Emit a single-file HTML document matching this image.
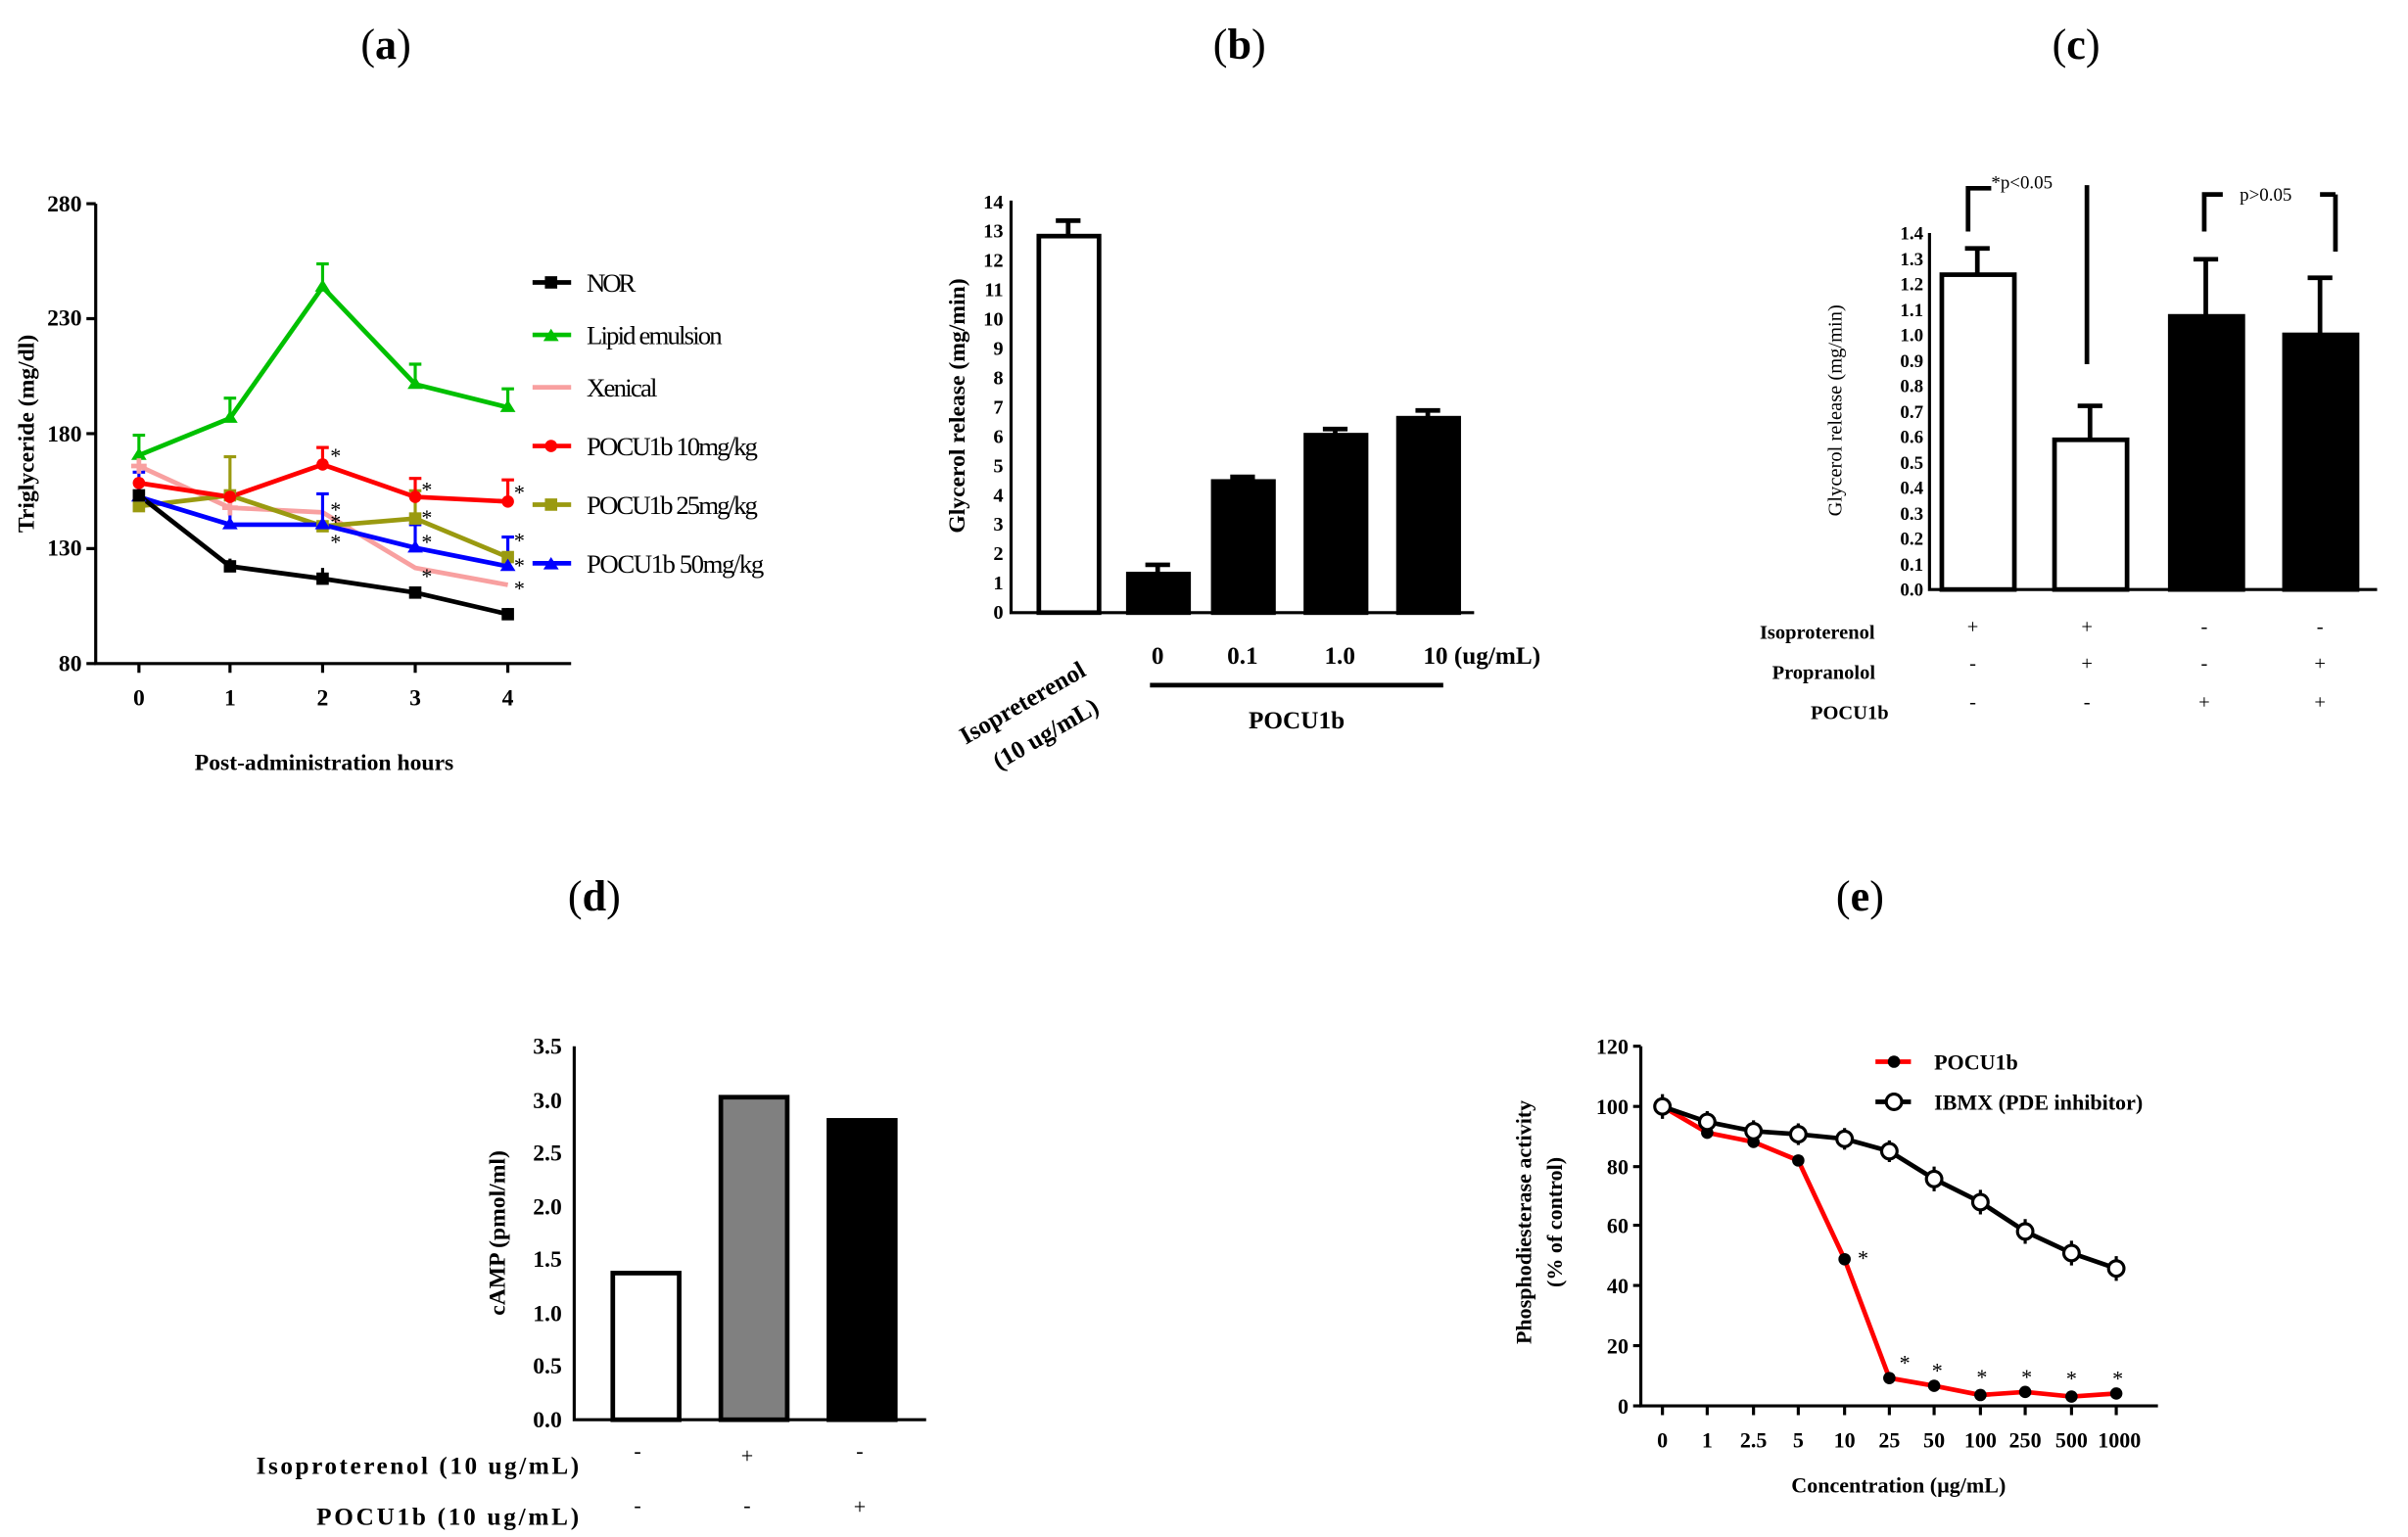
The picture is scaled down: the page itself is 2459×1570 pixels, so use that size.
<!DOCTYPE html>
<html><head><meta charset="utf-8"><style>html,body{margin:0;padding:0;background:#fff}svg{display:block}</style></head>
<body>
<svg width="2459" height="1570" viewBox="0 0 1560 996" preserveAspectRatio="none" font-family="Liberation Serif, serif" xmlns="http://www.w3.org/2000/svg">
<g font-size="28" text-anchor="middle">
<text x="250" y="38">(<tspan font-weight="bold">a</tspan>)</text>
<text x="803" y="38">(<tspan font-weight="bold">b</tspan>)</text>
<text x="1345" y="38">(<tspan font-weight="bold">c</tspan>)</text>
<text x="385" y="590">(<tspan font-weight="bold">d</tspan>)</text>
<text x="1205" y="590">(<tspan font-weight="bold">e</tspan>)</text>
</g>

<!-- Panel a -->
<g stroke="#000" stroke-width="2" fill="none">
<path d="M62 132V430H370"/>
<path d="M56 132H62M56 206.5H62M56 281H62M56 355.5H62M56 430H62"/>
<path d="M90 430v6M149 430v6M209 430v6M269 430v6M329 430v6"/>
</g>
<g font-size="15" text-anchor="end" font-weight="bold">
<text x="53" y="137">280</text><text x="53" y="211">230</text><text x="53" y="286">180</text><text x="53" y="360">130</text><text x="53" y="435">80</text>
</g>
<g font-size="15" text-anchor="middle" font-weight="bold">
<text x="90" y="457">0</text><text x="149" y="457">1</text><text x="209" y="457">2</text><text x="269" y="457">3</text><text x="329" y="457">4</text>
<text x="210" y="499">Post-administration hours</text>
</g>
<text transform="translate(22 281) rotate(-90)" font-size="15" font-weight="bold" text-anchor="middle">Triglyceride (mg/dl)</text>
<g stroke-width="3" fill="none">
<polyline stroke="#00c000" points="90,295 149,271 209,186 269,249 329,264"/>
<path stroke="#00c000" stroke-width="2" d="M90 295V282M149 271V258M209 186V171M269 249V236M329 264V252M86 282H94M145 258H153M205 171H213M265 236H273M325 252H333"/>
<polyline stroke="#f8a0a0" points="90,302 149,329 209,332 269,368 329,379"/>
<polyline stroke="#9a9a10" points="90,328 149,321 209,341 269,336 329,361"/>
<path stroke="#9a9a10" stroke-width="2" d="M149 321V296M269 336V318M145 296H153M265 318H273"/>
<polyline stroke="#ff0000" points="90,313 149,322 209,301 269,322 329,325"/>
<path stroke="#ff0000" stroke-width="2" d="M209 301V290M269 322V310M329 325V311M205 290H213M265 310H273M325 311H333"/>
<polyline stroke="#0000ff" points="90,322 149,340 209,340 269,355 329,367"/>
<path stroke="#0000ff" stroke-width="2" d="M90 322V306M149 340V320M209 340V320M269 355V340M329 367V348M86 306H94M145 320H153M205 320H213M265 340H273M325 348H333"/>
<polyline stroke="#000" points="90,321 149,367 209,375 269,384 329,398"/>
<path stroke="#000" stroke-width="2" d="M149 367V362M209 375V368M269 384V380M329 398V394"/>
</g>
<g fill="#00c000"><path d="M90 290l5 8h-10zM149 266l5 8h-10zM209 181l5 8h-10zM269 244l5 8h-10zM329 259l5 8h-10z"/></g>
<g fill="#f8a0a0"><path d="M90 302m-5 0h10m-5-5v10M149 329m-5 0h10m-5-5v10" stroke="#f8a0a0" stroke-width="3"/></g>
<g fill="#9a9a10"><rect x="86" y="324" width="8" height="8"/><rect x="145" y="317" width="8" height="8"/><rect x="205" y="337" width="8" height="8"/><rect x="265" y="332" width="8" height="8"/><rect x="325" y="357" width="8" height="8"/></g>
<g fill="#ff0000"><circle cx="90" cy="313" r="4"/><circle cx="149" cy="322" r="4"/><circle cx="209" cy="301" r="4"/><circle cx="269" cy="322" r="4"/><circle cx="329" cy="325" r="4"/></g>
<g fill="#0000ff"><path d="M90 317l5 8h-10zM149 335l5 8h-10zM209 335l5 8h-10zM269 350l5 8h-10zM329 362l5 8h-10z"/></g>
<g>
<rect x="86" y="317" width="8" height="8"/><rect x="145" y="363" width="8" height="8"/><rect x="205" y="371" width="8" height="8"/><rect x="265" y="380" width="8" height="8"/><rect x="325" y="394" width="8" height="8"/>
</g>
<g font-size="14" fill="#000"><text x="214" y="300">*</text><text x="273" y="322">*</text><text x="273" y="340">*</text><text x="273" y="356">*</text><text x="273" y="378">*</text><text x="214" y="335">*</text><text x="214" y="343">*</text><text x="214" y="356">*</text><text x="333" y="324">*</text><text x="333" y="355">*</text><text x="333" y="371">*</text><text x="333" y="386">*</text></g>
<g stroke-width="3">
<path stroke="#000" d="M345 183H370"/><path stroke="#00c000" d="M345 217H370"/><path stroke="#f8a0a0" d="M345 251H370"/><path stroke="#ff0000" d="M345 289H370"/><path stroke="#9a9a10" d="M345 327H370"/><path stroke="#0000ff" d="M345 365H370"/>
</g>
<rect x="353" y="179" width="8" height="8"/>
<path d="M357 213l5 8h-10z" fill="#00c000"/><circle cx="357" cy="289" r="4" fill="#ff0000"/><rect x="353" y="323" width="8" height="8" fill="#9a9a10"/><path d="M357 361l5 8h-10z" fill="#0000ff"/>
<g font-size="17">
<text x="380" y="189" textLength="32">NOR</text><text x="380" y="223" textLength="88">Lipid emulsion</text><text x="380" y="257" textLength="46">Xenical</text><text x="380" y="295" textLength="111">POCU1b 10mg/kg</text><text x="380" y="333" textLength="111">POCU1b 25mg/kg</text><text x="380" y="371" textLength="115">POCU1b  50mg/kg</text>
</g>

<!-- Panel b -->
<g stroke="#000" stroke-width="2" fill="none">
<path d="M655 130V397H955"/>
</g>
<g font-size="13" text-anchor="end" font-weight="bold">
<text x="650" y="401">0</text><text x="650" y="382">1</text><text x="650" y="363">2</text><text x="650" y="344">3</text><text x="650" y="325">4</text><text x="650" y="306">5</text><text x="650" y="287">6</text><text x="650" y="268">7</text><text x="650" y="249">8</text><text x="650" y="230">9</text><text x="650" y="211">10</text><text x="650" y="192">11</text><text x="650" y="173">12</text><text x="650" y="154">13</text><text x="650" y="135">14</text>
</g>
<text transform="translate(625 263) rotate(-90)" font-size="15" font-weight="bold" text-anchor="middle">Glycerol release (mg/min)</text>
<g stroke="#000" stroke-width="3">
<rect x="673" y="153" width="39" height="244" fill="#fff"/>
<path d="M692 153V143M684 143H700" fill="none"/>
<rect x="731" y="372" width="39" height="25" fill="#000"/>
<path d="M750 372V366M742 366H758"/>
<rect x="786" y="312" width="39" height="85" fill="#000"/>
<path d="M805 312V309M797 309H813"/>
<rect x="846" y="282" width="39" height="115" fill="#000"/>
<path d="M865 282V278M857 278H873"/>
<rect x="906" y="271" width="39" height="126" fill="#000"/>
<path d="M925 271V266M917 266H933"/>
<path d="M745 444H935"/>
</g>
<g font-size="16" font-weight="bold" text-anchor="middle">
<text x="750" y="430">0</text><text x="805" y="430">0.1</text><text x="868" y="430">1.0</text><text x="960" y="430">10 (ug/mL)</text>
<text x="840" y="472">POCU1b</text>
<text transform="translate(665 460) rotate(-30)">Isopreterenol</text>
<text transform="translate(680 480) rotate(-30)">(10 ug/mL)</text>
</g>

<!-- Panel c -->
<g stroke="#000" stroke-width="2" fill="none"><path d="M1250 151V382H1540"/></g>
<g font-size="12" text-anchor="end" font-weight="bold">
<text x="1246" y="386">0.0</text><text x="1246" y="370">0.1</text><text x="1246" y="353">0.2</text><text x="1246" y="337">0.3</text><text x="1246" y="320">0.4</text><text x="1246" y="304">0.5</text><text x="1246" y="287">0.6</text><text x="1246" y="271">0.7</text><text x="1246" y="254">0.8</text><text x="1246" y="238">0.9</text><text x="1246" y="221">1.0</text><text x="1246" y="205">1.1</text><text x="1246" y="188">1.2</text><text x="1246" y="172">1.3</text><text x="1246" y="155">1.4</text>
</g>
<text transform="translate(1193 266) rotate(-90)" font-size="13" text-anchor="middle">Glycerol release (mg/min)</text>
<g stroke="#000" stroke-width="3">
<rect x="1258" y="178" width="47" height="204" fill="#fff"/><path d="M1281 178V161M1273 161H1289"/>
<rect x="1331" y="285" width="47" height="97" fill="#fff"/><path d="M1354 285V263M1346 263H1362"/>
<rect x="1406" y="205" width="47" height="177" fill="#000"/><path d="M1429 205V168M1421 168H1437"/>
<rect x="1480" y="217" width="47" height="165" fill="#000"/><path d="M1503 217V180M1495 180H1511"/>
<path d="M1275 150V122H1290M1352 120V236" fill="none"/>
<path d="M1428 150V126H1440M1513 126V163M1503 126H1513" fill="none"/>
</g>
<g font-size="12"><text x="1290" y="122">*p&lt;0.05</text><text x="1451" y="130">p&gt;0.05</text></g>
<g font-size="13" font-weight="bold"><text x="1140" y="414">Isoproterenol</text><text x="1148" y="440">Propranolol</text><text x="1173" y="466">POCU1b</text></g>
<g font-size="13" text-anchor="middle">
<text x="1278" y="410">+</text><text x="1352" y="410">+</text><text x="1428" y="410">-</text><text x="1503" y="410">-</text>
<text x="1278" y="434">-</text><text x="1352" y="434">+</text><text x="1428" y="434">-</text><text x="1503" y="434">+</text>
<text x="1278" y="459">-</text><text x="1352" y="459">-</text><text x="1428" y="459">+</text><text x="1503" y="459">+</text>
</g>

<!-- Panel d -->
<g stroke="#000" stroke-width="2" fill="none"><path d="M372 678V920H600"/></g>
<g font-size="15" text-anchor="end" font-weight="bold">
<text x="364" y="925">0.0</text><text x="364" y="890">0.5</text><text x="364" y="856">1.0</text><text x="364" y="821">1.5</text><text x="364" y="787">2.0</text><text x="364" y="752">2.5</text><text x="364" y="718">3.0</text><text x="364" y="683">3.5</text>
</g>
<text transform="translate(327 799) rotate(-90)" font-size="15" font-weight="bold" text-anchor="middle">cAMP (pmol/ml)</text>
<g stroke="#000" stroke-width="3">
<rect x="397" y="825" width="43" height="95" fill="#fff"/>
<rect x="467" y="711" width="43" height="209" fill="#808080"/>
<rect x="537" y="726" width="43" height="194" fill="#000"/>
</g>
<g font-size="16" font-weight="bold"><text x="166" y="955" textLength="209">Isoproterenol (10 ug/mL)</text><text x="205" y="988" textLength="170">POCU1b (10 ug/mL)</text></g>
<g font-size="14" text-anchor="middle"><text x="413" y="945">-</text><text x="484" y="948">+</text><text x="557" y="945">-</text><text x="413" y="980">-</text><text x="484" y="980">-</text><text x="557" y="981">+</text></g>

<!-- Panel e -->
<g stroke="#000" stroke-width="2" fill="none"><path d="M1063 678V911H1398"/>
<path d="M1058 678H1063M1058 717H1063M1058 756H1063M1058 794H1063M1058 833H1063M1058 872H1063M1058 911H1063"/>
<path d="M1077 911v6M1106 911v6M1136 911v6M1165 911v6M1195 911v6M1224 911v6M1253 911v6M1283 911v6M1312 911v6M1342 911v6M1371 911v6"/></g>
<g font-size="14" text-anchor="end" font-weight="bold">
<text x="1055" y="683">120</text><text x="1055" y="722">100</text><text x="1055" y="761">80</text><text x="1055" y="799">60</text><text x="1055" y="838">40</text><text x="1055" y="877">20</text><text x="1055" y="916">0</text>
</g>
<g font-size="14" text-anchor="middle" font-weight="bold">
<text x="1077" y="938">0</text><text x="1106" y="938">1</text><text x="1136" y="938">2.5</text><text x="1165" y="938">5</text><text x="1195" y="938">10</text><text x="1224" y="938">25</text><text x="1253" y="938">50</text><text x="1283" y="938">100</text><text x="1312" y="938">250</text><text x="1342" y="938">500</text><text x="1373" y="938">1000</text>
<text x="1230" y="967">Concentration (µg/mL)</text>
</g>
<text transform="translate(992 792) rotate(-90)" font-size="14" font-weight="bold" text-anchor="middle">Phosphodiesterase activity</text>
<text transform="translate(1012 792) rotate(-90)" font-size="14" font-weight="bold" text-anchor="middle">(% of control)</text>
<g fill="none" stroke-width="3">
<polyline stroke="#ff0000" points="1077,717 1106,734 1136,740 1165,752 1195,816 1224,893 1253,898 1283,904 1312,902 1342,905 1371,903"/>
<polyline stroke="#000" points="1077,717 1106,727 1136,733 1165,735 1195,738 1224,746 1253,764 1283,779 1312,798 1342,812 1371,822"/>
<path stroke="#000" stroke-width="2" d="M1077 709V725M1106 720V734M1136 726V740M1165 728V742M1195 731V745M1224 739V753M1253 756V772M1283 771V787M1312 790V806M1342 804V820M1371 814V830"/>
</g>
<g fill="#000"><circle cx="1106" cy="734" r="4"/><circle cx="1136" cy="740" r="4"/><circle cx="1165" cy="752" r="4"/><circle cx="1195" cy="816" r="4"/><circle cx="1224" cy="893" r="4"/><circle cx="1253" cy="898" r="4"/><circle cx="1283" cy="904" r="4"/><circle cx="1312" cy="902" r="4"/><circle cx="1342" cy="905" r="4"/><circle cx="1371" cy="903" r="4"/></g>
<g fill="#fff" stroke="#000" stroke-width="2"><circle cx="1077" cy="717" r="5"/><circle cx="1106" cy="727" r="5"/><circle cx="1136" cy="733" r="5"/><circle cx="1165" cy="735" r="5"/><circle cx="1195" cy="738" r="5"/><circle cx="1224" cy="746" r="5"/><circle cx="1253" cy="764" r="5"/><circle cx="1283" cy="779" r="5"/><circle cx="1312" cy="798" r="5"/><circle cx="1342" cy="812" r="5"/><circle cx="1371" cy="822" r="5"/></g>
<g font-size="14" text-anchor="middle"><text x="1207" y="820">*</text><text x="1234" y="888">*</text><text x="1255" y="893">*</text><text x="1284" y="897">*</text><text x="1313" y="897">*</text><text x="1342" y="898">*</text><text x="1372" y="898">*</text></g>
<path d="M1215 688H1238" stroke="#ff0000" stroke-width="3"/><circle cx="1227" cy="688" r="4"/>
<path d="M1215 714H1238" stroke="#000" stroke-width="3"/><circle cx="1227" cy="714" r="5" fill="#fff" stroke="#000" stroke-width="2"/>
<g font-size="14" font-weight="bold"><text x="1253" y="693">POCU1b</text><text x="1253" y="719">IBMX (PDE inhibitor)</text></g>
</svg>
</body></html>
